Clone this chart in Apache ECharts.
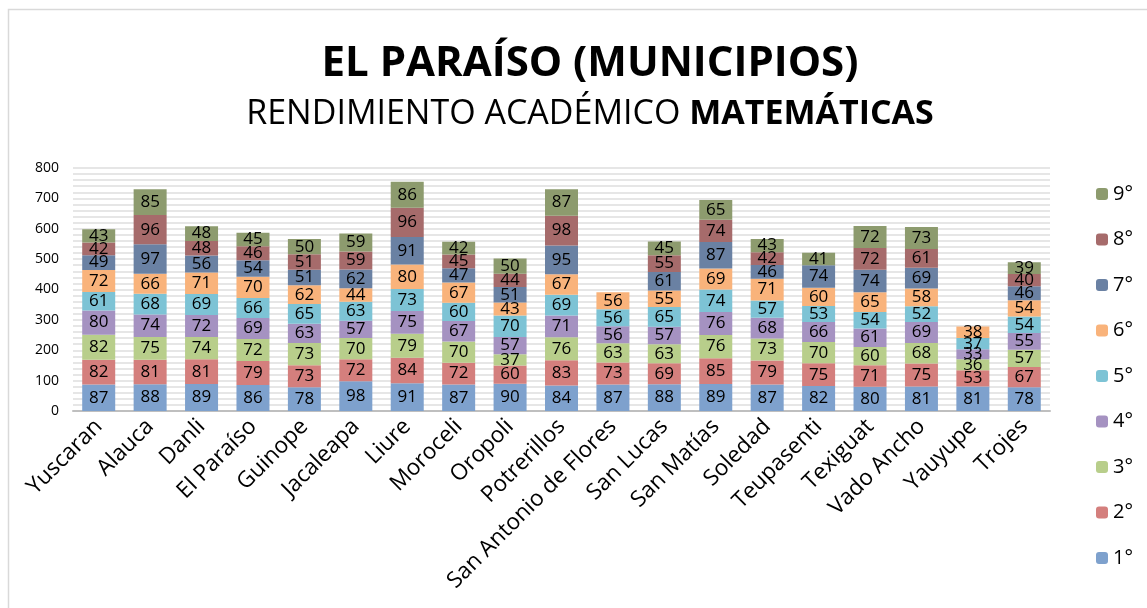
<!DOCTYPE html>
<html><head><meta charset="utf-8">
<script src="https://cdn.jsdelivr.net/npm/echarts@6/dist/echarts.min.js"></script>
<style>html,body{margin:0;padding:0;background:#fff}#c{width:1147px;height:608px}</style>
</head><body><div id="c"></div>
<script>
const categories = ['Yuscaran','Alauca','Danli','El Paraíso','Guinope','Jacaleapa','Liure','Moroceli','Oropoli','Potrerillos','San Antonio de Flores','San Lucas','San Matías','Soledad','Teupasenti','Texiguat','Vado Ancho','Yauyupe','Trojes'];
const seriesNames = ['1°','2°','3°','4°','5°','6°','7°','8°','9°'];
const g1 = [87,88,89,86,78,98,91,87,90,84,87,88,89,87,82,80,81,81,78];
const g2 = [82,81,81,79,73,72,84,72,60,83,73,69,85,79,75,71,75,53,67];
const g3 = [82,75,74,72,73,70,79,70,37,76,63,63,76,73,70,60,68,36,57];
const g4 = [80,74,72,69,63,57,75,67,57,71,56,57,76,68,66,61,69,33,55];
const g5 = [61,68,69,66,65,63,73,60,70,69,56,65,74,57,53,54,52,37,54];
const g6 = [72,66,71,70,62,44,80,67,43,67,56,55,69,71,60,65,58,38,54];
const g7 = [49,97,56,54,51,62,91,47,51,95,null,61,87,46,74,74,69,null,46];
const g8 = [42,96,48,46,51,59,96,45,44,98,null,55,74,42,null,72,61,null,40];
const g9 = [43,85,48,45,50,59,86,42,50,87,null,45,65,43,41,72,73,null,39];
const yTicks = [0,100,200,300,400,500,600,700,800];
const colors = ['#7EA1CD','#D47F7D','#B8CE8B','#A592C1','#7DC3D5','#F9B37B','#6A81A3','#A66B6B','#8D9B6E'];

const allData = [g1,g2,g3,g4,g5,g6,g7,g8,g9];
const chart = echarts.init(document.getElementById('c'), null, {renderer:'canvas'});
const FONT = '"Open Sans", "Noto Sans", sans-serif';
chart.setOption({
  animation:false,
  textStyle:{fontFamily:FONT},
  graphic:[{type:'rect',shape:{x:8.5,y:9.5,width:1300,height:800},style:{fill:'none',stroke:'#D9D9D9',lineWidth:1.5},silent:true}],
  title:[{
    text:'EL PARAÍSO (MUNICIPIOS)',
    left:585, top:38, textAlign:'center',
    textStyle:{fontFamily:FONT,fontSize:42,fontWeight:'bold',color:'#000'}
  },{
    text:'{n|RENDIMIENTO ACADÉMICO }{b|MATEMÁTICAS}',
    left:585, top:92, textAlign:'center',
    textStyle:{rich:{
      n:{fontFamily:FONT,fontSize:34,color:'#000',fontWeight:'normal'},
      b:{fontFamily:FONT,fontSize:34,color:'#000',fontWeight:'bold'}
    }}
  }],
  legend:{
    orient:'vertical', left:1091, top:179, itemWidth:12, itemHeight:12, itemGap:25.5,
    data:seriesNames.slice().reverse(),
    textStyle:{fontFamily:FONT,fontSize:20,color:'#000'}
  },
  grid:{left:73, right:97, top:168, bottom:197},
  xAxis:{
    type:'category', data:categories,
    axisTick:{show:false},
    axisLine:{lineStyle:{color:'#BFBFBF',width:2}},
    axisLabel:{rotate:45, interval:0, fontSize:22.5, color:'#000', margin:12, fontFamily:FONT}
  },
  yAxis:{
    type:'value', min:0, max:800, interval:100,
    axisLine:{show:false}, axisTick:{show:false},
    axisLabel:{fontSize:14, color:'#000', margin:14, fontFamily:FONT,
      formatter:v=>yTicks.includes(v)?String(v):''},
    splitLine:{lineStyle:{color:'#E6E6E6',width:2}},
    minorTick:{show:false, splitNumber:5},
    minorSplitLine:{show:true, lineStyle:{color:'#E6E6E6',width:2}}
  },
  series: seriesNames.map((n,i)=>({
    name:n, type:'bar', stack:'total', barWidth:33,
    data:allData[i],
    itemStyle:{color:colors[i]},
    label:{show:true, position:'inside', color:'#000', fontSize:17, fontFamily:FONT,
      formatter:p=>p.value==null?'':p.value}
  })),
  color:colors
});
</script></body></html>
